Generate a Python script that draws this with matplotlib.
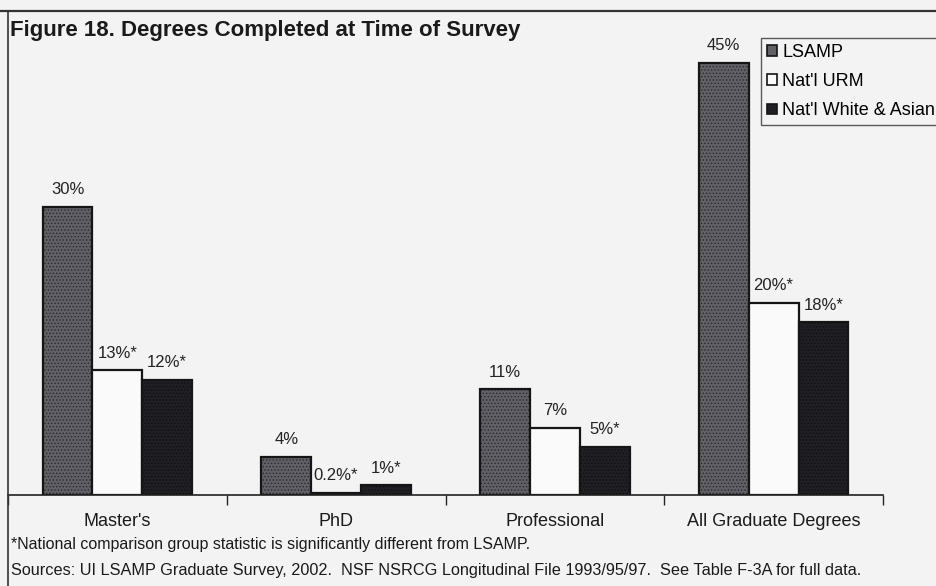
import matplotlib
matplotlib.use("Agg")
import matplotlib.pyplot as plt
from matplotlib.lines import Line2D
from matplotlib.patches import Patch
import numpy as np

plt.rcParams['font.family'] = ['Liberation Sans', 'DejaVu Sans']
plt.rcParams['hatch.linewidth'] = 0.6

categories = ["Master's", "PhD", "Professional", "All Graduate Degrees"]
series_names = ["LSAMP", "Nat'l URM", "Nat'l White & Asian"]
lsamp = [30, 4, 11, 45]
urm = [13, 0.2, 7, 20]
white_asian = [12, 1, 5, 18]
lsamp_labels = ["30%", "4%", "11%", "45%"]
urm_labels = ["13%*", "0.2%*", "7%", "20%*"]
white_asian_labels = ["12%*", "1%*", "5%*", "18%*"]

bg = '#f3f3f4'
W, H = 936, 586
fig = plt.figure(figsize=(W / 100, H / 100), dpi=100, facecolor=bg)

# plotting area: baseline at y=495 px, spans x=8..883 px
ax = fig.add_axes([8 / W, (H - 495) / H, 875 / W, 480 / H])
ax.set_facecolor('none')

x = np.arange(len(categories))
bw = 0.228
styles = [
    dict(facecolor='#606066', hatch='.....', edgecolor='#2a2a2e'),
    dict(facecolor='#fafafa', hatch=None, edgecolor='#1a1a1a'),
    dict(facecolor='#1f1f24', hatch='.....', edgecolor='#111114'),
]
all_vals = [lsamp, urm, white_asian]
all_labels = [lsamp_labels, urm_labels, white_asian_labels]
for i, (vals, labs, st) in enumerate(zip(all_vals, all_labels, styles)):
    pos = x + (i - 1) * bw
    bars = ax.bar(pos, vals, width=bw, facecolor=st['facecolor'],
                  hatch=st['hatch'], edgecolor='#151515', linewidth=1.6)
    if st['hatch']:
        for b in bars:
            b._hatch_color = matplotlib.colors.to_rgba(st['edgecolor'])
    for p, v, lab in zip(pos, vals, labs):
        ax.text(p, v + 1.0, lab, ha='center', va='bottom', fontsize=12,
                color='#222222')

ax.set_xlim(-0.5, 3.5)
ax.set_ylim(0, 50)
for s in ['top', 'right', 'left']:
    ax.spines[s].set_visible(False)
ax.spines['bottom'].set_linewidth(1.2)
ax.spines['bottom'].set_color('#222222')
ax.set_yticks([])
ax.set_xticks(np.arange(-0.5, 3.6, 1.0))
ax.set_xticklabels([])
ax.tick_params(axis='x', length=7, width=1.0, color='#222222', direction='out')
for xi, cat in zip(x, categories):
    ax.text(xi, -1.9, cat, ha='center', va='top', fontsize=13,
            color='#1a1a1a', transform=ax.transData, clip_on=False)

# frame lines
fig.add_artist(Line2D([0, 1], [1 - 11 / H, 1 - 11 / H], transform=fig.transFigure,
                      color='#333333', linewidth=1.6))
fig.add_artist(Line2D([8 / W, 8 / W], [0, 1 - 11 / H], transform=fig.transFigure,
                      color='#333333', linewidth=1.2))

fig.text(10 / W, 1 - 20 / H, "Figure 18. Degrees Completed at Time of Survey",
         ha='left', va='top', fontsize=16, fontweight='bold', color='#1a1a1a')

handles = [Patch(facecolor=st['facecolor'], edgecolor='#151515', linewidth=1.2)
           for st in styles]
leg = fig.legend(handles, series_names, loc='upper left',
                 bbox_to_anchor=(761 / W, 1 - 38 / H), frameon=True,
                 fontsize=13, handlelength=0.55, handleheight=0.55,
                 handletextpad=0.3, labelspacing=0.68, borderpad=0.32,
                 borderaxespad=0, fancybox=False, edgecolor='#333333',
                 facecolor=bg)
leg.get_frame().set_linewidth(1.0)

fig.text(11 / W, 1 - 545 / H,
         "*National comparison group statistic is significantly different from LSAMP.",
         ha='left', va='center', fontsize=11.5, color='#1a1a1a')
fig.text(11 / W, 1 - 570 / H,
         "Sources: UI LSAMP Graduate Survey, 2002.  NSF NSRCG Longitudinal File 1993/95/97.  See Table F-3A for full data.",
         ha='left', va='center', fontsize=11.7, color='#1a1a1a')

fig.savefig('out.png', dpi=100, facecolor=bg)
